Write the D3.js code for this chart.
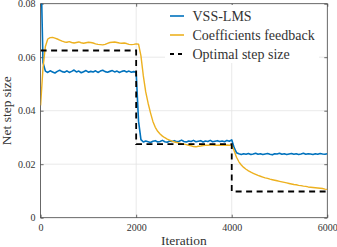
<!DOCTYPE html>
<html>
<head>
<meta charset="utf-8">
<script src="https://cdn.jsdelivr.net/npm/d3@7"></script>
<style>
  body { margin: 0; background: #fff; }
  svg text { font-family: "Liberation Serif", "DejaVu Serif", serif; }
</style>
</head>
<body>
<svg id="chart"></svg>
<script>
// iteration grid, one sample every 50 iterations
const iterations = d3.range(0, 6001, 50);

const vssLms = [
  0.1000, 0.0580, 0.0548,
  0.0543, 0.0549, 0.0545, 0.0541, 0.0547, 0.0551, 0.0546, 0.0544, 0.0549, 0.0543,
  0.0547, 0.0552, 0.0545, 0.0548, 0.0542, 0.0546, 0.0550, 0.0544, 0.0547, 0.0545,
  0.0549, 0.0543, 0.0548, 0.0551, 0.0546, 0.0544, 0.0547, 0.0550, 0.0545, 0.0548,
  0.0543, 0.0547, 0.0549, 0.0545, 0.0548, 0.0544, 0.0546,
  0.0544, 0.0360, 0.0292,
  0.0283, 0.0287, 0.0284, 0.0281, 0.0286, 0.0288, 0.0283, 0.0285, 0.0289, 0.0284,
  0.0282, 0.0287, 0.0285, 0.0288, 0.0284, 0.0286, 0.0290, 0.0285, 0.0283, 0.0287,
  0.0285, 0.0289, 0.0284, 0.0286, 0.0288, 0.0283, 0.0287, 0.0285, 0.0289, 0.0284,
  0.0286, 0.0288, 0.0285, 0.0287, 0.0284, 0.0289, 0.0286, 0.0291,
  0.0262, 0.0243, 0.0239,
  0.0236, 0.0239, 0.0237, 0.0240, 0.0236, 0.0238, 0.0241, 0.0237, 0.0239, 0.0236,
  0.0238, 0.0240, 0.0237, 0.0235, 0.0239, 0.0238, 0.0241, 0.0237, 0.0239, 0.0236,
  0.0238, 0.0240, 0.0237, 0.0239, 0.0236, 0.0238, 0.0241, 0.0237, 0.0239, 0.0238,
  0.0236, 0.0239, 0.0237, 0.0240, 0.0238, 0.0237, 0.0239
];

const coeffFeedback = [
  0.0420, 0.0560, 0.0640, 0.0668, 0.0673, 0.0674, 0.0671,
  0.0668, 0.0664, 0.0660, 0.0657, 0.0656, 0.0658, 0.0655, 0.0653, 0.0655, 0.0657,
  0.0654, 0.0652, 0.0654, 0.0656, 0.0655, 0.0653, 0.0650, 0.0648, 0.0647, 0.0646,
  0.0648, 0.0652, 0.0655, 0.0656, 0.0657, 0.0655, 0.0653, 0.0652, 0.0653, 0.0651,
  0.0648, 0.0647, 0.0648,
  0.0650, 0.0649, 0.0605, 0.0530, 0.0470, 0.0428, 0.0392, 0.0360, 0.0338, 0.0323,
  0.0313, 0.0305, 0.0299, 0.0294, 0.0290, 0.0286, 0.0283, 0.0281, 0.0279, 0.0277,
  0.0275, 0.0273, 0.0271, 0.0269, 0.0266, 0.0265, 0.0267, 0.0268, 0.0270, 0.0271,
  0.0271, 0.0272, 0.0272, 0.0271, 0.0271, 0.0272, 0.0271, 0.0271, 0.0272, 0.0271,
  0.0271,
  0.0250, 0.0226, 0.0209, 0.0197, 0.0188, 0.0181, 0.0175, 0.0170, 0.0166, 0.0162,
  0.0158, 0.0155, 0.0152, 0.0149, 0.0147, 0.0144, 0.0142, 0.0140, 0.0138, 0.0136,
  0.0134, 0.0132, 0.0130, 0.0128, 0.0126, 0.0124, 0.0123, 0.0121, 0.0120, 0.0118,
  0.0117, 0.0115, 0.0114, 0.0113, 0.0112, 0.0111, 0.0110, 0.0109, 0.0107, 0.0106
];

// optimal step size is piecewise constant
const optimalIters = [0, 2000, 2000, 4000, 4000, 6000];
const optimalStep  = [0.0625, 0.0625, 0.0275, 0.0275, 0.0098, 0.0098];

const xTicks = [0, 2000, 4000, 6000];
const yTicks = [0, 0.02, 0.04, 0.06, 0.08];
const yTickLabels = ['0', '0.02', '0.04', '0.06', '0.08'];

const seriesNames = ['VSS-LMS', 'Coefficients feedback', 'Optimal step size'];

const SERIF = '"Liberation Serif", "DejaVu Serif", serif';

class StepSizePlot {
    constructor(_config) {
        this.config = {
            parentElement: _config.parentElement,
            containerWidth: _config.containerWidth || 337,
            containerHeight: _config.containerHeight || 247,
            margin: {top: 3.7, right: 9.7, bottom: 29.3, left: 40.6}
        };
        this.initVis();
    }

    initVis() {
        let vis = this;
        vis.width = vis.config.containerWidth - vis.config.margin.left - vis.config.margin.right;
        vis.height = vis.config.containerHeight - vis.config.margin.top - vis.config.margin.bottom;

        vis.svg = d3.select(vis.config.parentElement)
            .attr('width', vis.config.containerWidth)
            .attr('height', vis.config.containerHeight)
            .attr('font-family', SERIF);

        vis.chart = vis.svg.append('g')
            .attr('transform', `translate(${vis.config.margin.left}, ${vis.config.margin.top})`);

        vis.xScale = d3.scaleLinear().domain([0, 6000]).range([0, vis.width]);
        vis.yScale = d3.scaleLinear().domain([0, 0.08]).range([vis.height, 0]);

        vis.svg.append('defs').append('clipPath').attr('id', 'plot-clip')
            .append('rect').attr('width', vis.width).attr('height', vis.height);

        this.renderVis();
    }

    renderVis() {
        let vis = this;

        // grid
        vis.chart.append('g')
            .selectAll('line.xgrid')
            .data(xTicks.slice(1, -1))
            .join('line')
            .attr('x1', d => vis.xScale(d)).attr('x2', d => vis.xScale(d))
            .attr('y1', 0).attr('y2', vis.height)
            .attr('stroke', '#e3e3e3').attr('stroke-width', 0.8);
        vis.chart.append('g')
            .selectAll('line.ygrid')
            .data(yTicks.slice(1, -1))
            .join('line')
            .attr('y1', d => vis.yScale(d)).attr('y2', d => vis.yScale(d))
            .attr('x1', 0).attr('x2', vis.width)
            .attr('stroke', '#e3e3e3').attr('stroke-width', 0.8);

        // axes, ticks pointing inwards, mirrored on top and right
        const axisStyle = g => {
            g.attr('font-family', SERIF);
            g.select('.domain').remove();
            g.selectAll('.tick line').attr('stroke', '#444').attr('stroke-width', 0.8);
            g.selectAll('.tick text').attr('fill', '#333')
                .attr('font-family', SERIF).style('font-size', '10px');
        };
        vis.chart.append('g')
            .attr('transform', `translate(0, ${vis.height})`)
            .call(d3.axisBottom(vis.xScale).tickValues(xTicks).tickSize(-3).tickPadding(6).tickFormat(d3.format('d')))
            .call(axisStyle);
        vis.chart.append('g')
            .call(d3.axisTop(vis.xScale).tickValues(xTicks).tickSize(-3).tickFormat(''))
            .call(axisStyle);
        vis.chart.append('g')
            .call(d3.axisLeft(vis.yScale).tickValues(yTicks).tickSize(-3).tickPadding(5)
                .tickFormat((d, i) => yTickLabels[i]))
            .call(axisStyle);
        vis.chart.append('g')
            .attr('transform', `translate(${vis.width}, 0)`)
            .call(d3.axisRight(vis.yScale).tickValues(yTicks).tickSize(-3).tickFormat(''))
            .call(axisStyle);

        vis.chart.append('rect')
            .attr('width', vis.width).attr('height', vis.height)
            .attr('fill', 'none').attr('stroke', '#444').attr('stroke-width', 0.8);

        // series
        const line = d3.line()
            .x(d => vis.xScale(d[0]))
            .y(d => vis.yScale(d[1]));

        const plot = vis.chart.append('g').attr('clip-path', 'url(#plot-clip)');

        plot.append('path')
            .datum(iterations.map((it, i) => [it, vssLms[i]]))
            .attr('d', line)
            .attr('fill', 'none')
            .attr('stroke', '#0072BD')
            .attr('stroke-width', 1.6)
            .attr('stroke-linejoin', 'round');

        plot.append('path')
            .datum(iterations.map((it, i) => [it, coeffFeedback[i]]))
            .attr('d', line)
            .attr('fill', 'none')
            .attr('stroke', '#EDB120')
            .attr('stroke-width', 1.4)
            .attr('stroke-linejoin', 'round');

        plot.append('path')
            .datum(optimalIters.map((it, i) => [it, optimalStep[i]]))
            .attr('d', line)
            .attr('fill', 'none')
            .attr('stroke', '#000')
            .attr('stroke-width', 1.8)
            .attr('stroke-dasharray', '6,4.5');

        // axis titles
        vis.svg.append('text')
            .attr('x', vis.config.margin.left + vis.width / 2)
            .attr('y', 245)
            .attr('text-anchor', 'middle')
            .attr('fill', '#333')
            .attr('font-family', SERIF)
            .style('font-size', '13.5px')
            .text('Iteration');
        vis.svg.append('text')
            .attr('transform', `translate(11, ${vis.config.margin.top + vis.height / 2}) rotate(-90)`)
            .attr('text-anchor', 'middle')
            .attr('fill', '#333')
            .attr('font-family', SERIF)
            .style('font-size', '13.5px')
            .text('Net step size');

        // legend
        const legend = vis.svg.append('g');
        legend.append('rect')
            .attr('x', 165).attr('y', 5).attr('width', 154).attr('height', 58)
            .attr('fill', '#fff');
        const colors = ['#0072BD', '#EDB120', '#000'];
        const rows = legend.selectAll('g.row')
            .data(seriesNames)
            .join('g')
            .attr('transform', (d, i) => `translate(170, ${16 + i * 19})`);
        rows.append('line')
            .attr('x1', 0).attr('x2', 14)
            .attr('stroke', (d, i) => colors[i])
            .attr('stroke-width', (d, i) => i === 2 ? 1.8 : 1.6)
            .attr('stroke-dasharray', (d, i) => i === 2 ? '4,4' : null);
        rows.append('text')
            .attr('x', 22.5).attr('y', 4.5)
            .attr('fill', '#333')
            .attr('font-family', SERIF)
            .style('font-size', '14px')
            .text(d => d);
    }
}

new StepSizePlot({parentElement: '#chart'});
</script>
</body>
</html>
